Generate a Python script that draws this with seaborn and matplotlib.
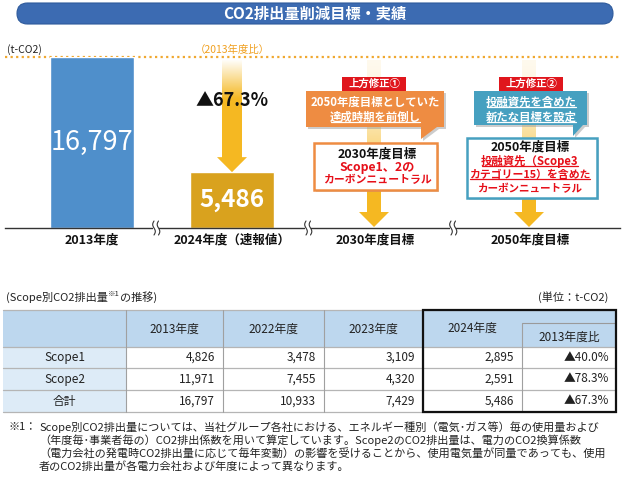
import numpy as np
import matplotlib
matplotlib.use("Agg")
import matplotlib.pyplot as plt
from matplotlib.patches import Rectangle, Polygon, FancyBboxPatch
import seaborn as sns

# chart data
bar_years = ["2013年度", "2024年度（速報値）"]
bar_values = [16797, 5486]
target_labels = ["2030年度目標", "2050年度目標"]

# table data
tbl_years = ["2013年度", "2022年度", "2023年度", "2024年度"]
tbl_rows = ["Scope1", "Scope2", "合計"]
scope1 = [4826, 3478, 3109, 2895]
scope2 = [11971, 7455, 4320, 2591]
total = [16797, 10933, 7429, 5486]
vs2013 = ["▲40.0%", "▲78.3%", "▲67.3%"]

note_lines = [
    "Scope別CO2排出量については、当社グループ各社における、エネルギー種別（電気･ガス等）毎の使用量および",
    "（年度毎･事業者毎の）CO2排出係数を用いて算定しています。Scope2のCO2排出量は、電力のCO2換算係数",
    "（電力会社の発電時CO2排出量に応じて毎年変動）の影響を受けることから、使用電気量が同量であっても、使用",
    "者のCO2排出量が各電力会社および年度によって異なります。",
]

BANNER = "#3C6BB2"
BAR_BLUE = "#4F8FCB"
BAR_GOLD = "#D9A21E"
ARROW = np.array([0.961, 0.725, 0.137])
ORANGE = "#EE8C42"
TEAL = "#46A0C0"
RED = "#E0161D"
RED_TXT = "#E60F19"
HEAD_BG = "#BDD7EE"
ROW_BG = "#DDEBF7"

sns.set_theme(style="white")
plt.rcParams["font.family"] = ["Noto Sans CJK JP", "DejaVu Sans"]

fig = plt.figure(figsize=(6.24, 4.8), dpi=100)

# ---- bar part ----
axb = fig.add_axes([5 / 624, (480 - 228) / 480, 615 / 624, 171 / 480])
sns.barplot(x=bar_years, y=bar_values, hue=bar_years,
            palette=[BAR_BLUE, BAR_GOLD], saturation=1, width=0.607,
            legend=False, ax=axb)
axb.set_xlim(-87 / 140, 528 / 140)
axb.set_ylim(0, max(bar_values))
axb.patch.set_alpha(0)
for s in ["top", "left", "right"]:
    axb.spines[s].set_visible(False)
axb.spines["bottom"].set_color("#333333")
axb.spines["bottom"].set_linewidth(1.0)
axb.set_yticks([])
axb.set_xlabel("")
axb.set_ylabel("")
axb.tick_params(axis="x", length=0, pad=4, labelsize=9, labelcolor="#111111")
for lab in axb.get_xticklabels():
    lab.set_fontweight("bold")

axb.bar_label(axb.containers[0], labels=[f"{bar_values[0]:,}"],
              label_type="center", color="white", fontsize=19.5)
axb.bar_label(axb.containers[1], labels=[f"{bar_values[1]:,}"],
              label_type="center", color="white", fontsize=17.5,
              fontweight="bold")
axb.axhline(bar_values[0], color="#F0A830", lw=1.6, ls=(0, (1, 1.5)),
            clip_on=False, zorder=0)


def ramp(n, full_at, start=0.0, power=1.0):
    t = np.linspace(0, 1, n)
    f = start + (1 - start) * np.clip(t / full_at, 0, 1) ** power
    rgb = (1 - f)[:, None] * np.ones(3) + f[:, None] * ARROW
    return np.dstack([rgb[:, None, 0], rgb[:, None, 1], rgb[:, None, 2],
                      np.ones((n, 1))])


def grad_arrow(ax, xc, ytop, ytip, hws, hwh, headh, img, z=1):
    sgn = 1 if ytip > ytop else -1
    yb = ytip - sgn * headh
    pts = [(xc - hws, ytop), (xc + hws, ytop), (xc + hws, yb), (xc + hwh, yb),
           (xc, ytip), (xc - hwh, yb), (xc - hws, yb)]
    poly = Polygon(pts, closed=True, fc="none", ec="none",
                   transform=ax.transData)
    ax.add_patch(poly)
    im = ax.imshow(img, extent=(xc - hwh, xc + hwh, ytip, ytop),
                   origin="upper", aspect="auto", interpolation="bilinear",
                   zorder=z)
    im.set_clip_path(poly)


ypx = bar_values[0] / 171.0
grad_arrow(axb, 1, bar_values[0] - 3 * ypx, bar_values[1],
           10 / 140, 15 / 140, 15 * ypx, ramp(200, 0.35), z=3)

# ---- overlay ----
ax = fig.add_axes([0, 0, 1, 1])
ax.set_xlim(0, 624)
ax.set_ylim(480, 0)
ax.axis("off")
ax.patch.set_alpha(0)

ax.add_patch(FancyBboxPatch((17, 3), 596, 21,
                            boxstyle="round,pad=0,rounding_size=10.5",
                            fc=BANNER, ec="#2E5A9C", lw=0.8))
ax.text(315, 14, "CO2排出量削減目標・実績", color="white", fontsize=11,
        fontweight="bold", ha="center", va="center")

ax.text(7, 50, "(t-CO2)", fontsize=7.5, color="#222222", va="center")
ax.text(232, 50, "（2013年度比）", fontsize=7.5, color="#F0A020",
        ha="center", va="center")

pct = (1 - bar_values[1] / bar_values[0]) * 100
ax.text(232, 101, f"▲{pct:.1f}%", fontsize=13, fontweight="bold",
        ha="center", va="center", color="#111111", zorder=6)

# target arrows
for xc in (374, 529):
    grad_arrow(ax, xc, 60, 227, 7, 15, 15,
               ramp(200, 0.78, start=0.08, power=1.6))

# axis breaks
for xb in (154, 306, 451):
    ax.add_patch(Rectangle((xb - 1, 221), 6, 14, fc="white", ec="none",
                           zorder=5))
    yy = np.linspace(221, 235, 30)
    for dx in (0, 4.5):
        ax.plot(xb + dx + 1.3 * np.sin((yy - 228) / 7 * np.pi), yy,
                color="#333333", lw=0.8, zorder=6)

for xc, lab in zip((375, 530), target_labels):
    ax.text(xc, 240, lab, fontsize=9, fontweight="bold", ha="center",
            va="center", color="#111111")

underlined = []


def bubble(pts, fc):
    sh = [(x + 2, y + 2) for x, y in pts]
    ax.add_patch(Polygon(sh, closed=True, fc="#9A9A9A", ec="none",
                         alpha=0.5, zorder=2))
    ax.add_patch(Polygon(pts, closed=True, fc=fc, ec="none", zorder=3))


def btxt(x, y, s, size, color, ul=False):
    t = ax.text(x, y, s, fontsize=size, fontweight="bold", ha="center",
                va="center", color=color, zorder=5)
    if ul:
        underlined.append((t, color))
    return t


# 2030 column
ax.add_patch(Rectangle((342, 77), 64, 14, fc=RED, ec="none", zorder=4))
btxt(374, 84, "上方修正①", 7.5, "white")
bubble([(306, 91), (444, 91), (444, 127), (437, 127), (421, 139),
        (421, 127), (306, 127)], ORANGE)
btxt(375, 102, "2050年度目標としていた", 8.2, "white")
btxt(375, 117, "達成時期を前倒し", 8.2, "white", ul=True)
ax.add_patch(Rectangle((316, 145), 123, 47, fc="#9A9A9A", alpha=0.4,
                       ec="none", zorder=2))
ax.add_patch(Rectangle((314, 143), 123, 47, fc="white", ec=ORANGE, lw=1.8,
                       zorder=3))
btxt(377, 154, "2030年度目標", 9, "#111111")
btxt(377, 167, "Scope1、2の", 8.8, RED_TXT)
btxt(377, 180, "カーボンニュートラル", 7.8, RED_TXT)

# 2050 column
ax.add_patch(Rectangle((499, 77), 64, 14, fc=RED, ec="none", zorder=4))
btxt(531, 84, "上方修正②", 7.5, "white")
bubble([(474, 91), (587, 91), (587, 125), (583, 125), (573, 136),
        (573, 125), (474, 125)], TEAL)
btxt(531, 102, "投融資先を含めた", 8.2, "white", ul=True)
btxt(531, 117, "新たな目標を設定", 8.2, "white", ul=True)
ax.add_patch(Rectangle((469, 140), 130, 60, fc="#9A9A9A", alpha=0.4,
                       ec="none", zorder=2))
ax.add_patch(Rectangle((467, 138), 130, 60, fc="white", ec=TEAL, lw=1.8,
                       zorder=3))
btxt(530, 147, "2050年度目標", 9, "#111111")
btxt(530, 161, "投融資先（Scope3", 8.2, RED_TXT, ul=True)
btxt(530, 175, "カテゴリー15）を含めた", 7.8, RED_TXT, ul=True)
btxt(530, 189, "カーボンニュートラル", 7.6, RED_TXT)

# ---- table ----
t1 = ax.text(6, 297, "(Scope別CO2排出量", fontsize=8, va="center",
             color="#222222")
t2 = ax.annotate("※1", xy=(1, 0.8), xycoords=t1, fontsize=5.5,
                 va="center", ha="left", color="#222222")
ax.annotate("の推移)", xy=(1, 0.5), xycoords=(t2, t1), fontsize=8,
            va="center", ha="left", color="#222222")
ax.text(608, 297, "(単位：t-CO2)", fontsize=8, va="center", ha="right",
        color="#222222")

cx = [3, 126, 223, 324, 423, 522, 616]
ry = [310, 347, 368, 390, 412]
ax.add_patch(Rectangle((cx[0], ry[0]), cx[-1] - cx[0], ry[1] - ry[0],
                       fc=HEAD_BG, ec="none"))
ax.add_patch(Rectangle((cx[0], ry[1]), cx[1] - cx[0], ry[-1] - ry[1],
                       fc=ROW_BG, ec="none"))
for y in ry:
    ax.plot([cx[0], cx[-1]], [y, y], color="#B5B5B5", lw=0.9)
ax.plot([cx[5], cx[-1]], [323, 323], color="#9A9A9A", lw=0.8)
for i, x in enumerate(cx[1:-1], start=1):
    y0 = 323 if i == 5 else ry[0]
    ax.plot([x, x], [y0, ry[-1]], color="#A0A0A0", lw=0.8)
ax.add_patch(Rectangle((cx[4], ry[0]), cx[-1] - cx[4], ry[-1] - ry[0],
                       fc="none", ec="#111111", lw=1.6, zorder=4))

tcol = "#222222"
for i, yr in enumerate(tbl_years):
    yc = 328 if i == 3 else 329
    ax.text((cx[i + 1] + cx[i + 2]) / 2, yc, yr, fontsize=8.5, ha="center",
            va="center", color=tcol)
ax.text((cx[5] + cx[6]) / 2, 337, "2013年度比", fontsize=8.5, ha="center",
        va="center", color=tcol)
for r, (name, vals) in enumerate(zip(tbl_rows, [scope1, scope2, total])):
    yc = (ry[r + 1] + ry[r + 2]) / 2
    ax.text((cx[0] + cx[1]) / 2, yc, name, fontsize=8.5, ha="center",
            va="center", color=tcol)
    for i, v in enumerate(vals):
        ax.text(cx[i + 2] - 8, yc, f"{v:,}", fontsize=8.5, ha="right",
                va="center", color=tcol)
    ax.text(cx[6] - 7, yc, vs2013[r], fontsize=8.5, ha="right",
            va="center", color=tcol)

# ---- footnote ----
ax.text(9, 427, "※1：", fontsize=8, va="center", color="#222222")
for k, line in enumerate(note_lines):
    ax.text(39, 427 + 13 * k, line, fontsize=8, va="center",
            color="#222222")

# underlines
fig.canvas.draw()
rend = fig.canvas.get_renderer()
inv = ax.transData.inverted()
for t, c in underlined:
    bb = t.get_window_extent(rend)
    (x0, y0), (x1, _) = inv.transform([(bb.x0, bb.y0), (bb.x1, bb.y0)])
    ax.plot([x0 + 1, x1 - 1], [y0 - 1.5, y0 - 1.5], color=c, lw=0.9,
            zorder=5)

fig.savefig("out.png", dpi=100)
